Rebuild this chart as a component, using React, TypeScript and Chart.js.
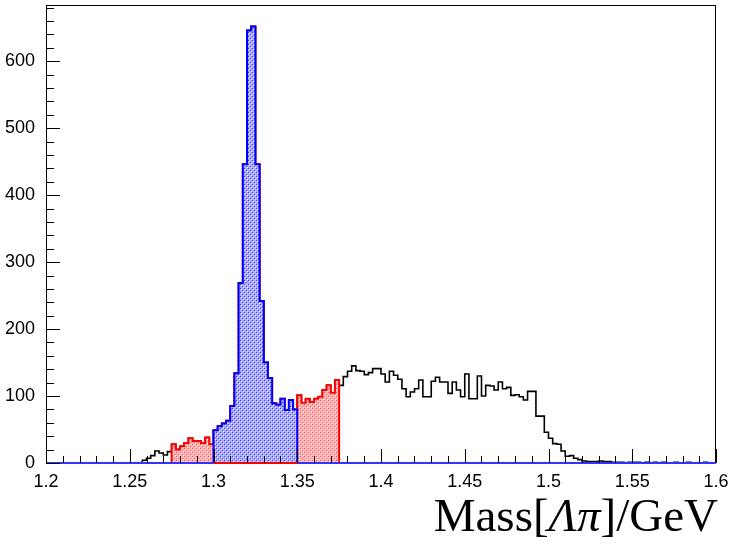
import React, { useEffect, useRef } from "react";
import { Chart, registerables } from "chart.js";

Chart.register(...registerables);

// ---- Data ----
const X_MIN = 1.2;
const X_MAX = 1.6;
const BIN_WIDTH = 0.0025;
const Y_MAX = 684;

// counts per 0.0025 GeV bin, 1.200 -> 1.275
const lowTailCounts = [
  0, 0, 0, 0, 0, 0, 0, 0, 0, 0,
  0, 0, 0, 0, 0, 0, 0, 0, 0, 0,
  0, 0, 0, 4, 7, 11, 18, 15, 12, 17,
];
// 1.275 -> 1.300 (low sideband)
const lowSidebandCounts = [28, 20, 25, 30, 37, 33, 33, 30, 38, 28];
// 1.300 -> 1.350 (signal window)
const signalCounts = [
  49, 55, 59, 63, 85, 134, 269, 446, 646, 652,
  446, 242, 150, 127, 89, 87, 96, 79, 94, 80,
];
// 1.350 -> 1.375 (high sideband)
const highSidebandCounts = [101, 90, 96, 91, 96, 99, 109, 116, 105, 124];
// 1.375 -> 1.600
const highTailCounts = [
  116, 129, 137, 145, 138, 137, 132, 135, 141, 141,
  133, 121, 137, 131, 125, 111, 99, 106, 111, 124,
  99, 99, 122, 128, 121, 121, 104, 121, 109, 99,
  133, 96, 96, 130, 100, 116, 115, 109, 121, 111,
  113, 101, 102, 99, 94, 107, 107, 70, 70, 46,
  37, 29, 28, 18, 10, 11, 7, 5, 3, 2,
  2, 2, 3, 2, 2, 1, 1, 1, 0, 1,
  1, 1, 0, 1, 0, 1, 0, 1, 0, 0,
  1, 0, 0, 1, 0, 0, 0, 1, 0, 0,
];

const sidebandRange = [1.275, 1.375];
const signalRange = [1.3, 1.35];

const allCounts = [
  ...lowTailCounts,
  ...lowSidebandCounts,
  ...signalCounts,
  ...highSidebandCounts,
  ...highTailCounts,
];

function stepPoints(lo: number, hi: number) {
  const i0 = Math.round((lo - X_MIN) / BIN_WIDTH);
  const i1 = Math.round((hi - X_MIN) / BIN_WIDTH);
  const pts: { x: number; y: number }[] = [];
  pts.push({ x: X_MIN + i0 * BIN_WIDTH, y: 0 });
  for (let i = i0; i < i1; i++) {
    pts.push({ x: X_MIN + i * BIN_WIDTH, y: allCounts[i] });
  }
  pts.push({ x: X_MIN + i1 * BIN_WIDTH, y: 0 });
  return pts;
}

function makePattern(bg: string, dot: string) {
  const c = document.createElement("canvas");
  c.width = 4;
  c.height = 4;
  const g = c.getContext("2d")!;
  g.fillStyle = bg;
  g.fillRect(0, 0, 4, 4);
  g.fillStyle = "#ffffff";
  g.fillRect(1, 1, 1, 1);
  g.fillRect(3, 3, 1, 1);
  g.fillStyle = dot;
  g.fillRect(0, 0, 1, 1);
  g.fillRect(2, 2, 1, 1);
  return g.createPattern(c, "repeat");
}

const framePlugin = {
  id: "rootFrame",
  beforeDatasetsDraw(chart: any) {
    const { ctx, chartArea: a } = chart;
    ctx.save();
    ctx.strokeStyle = "#000";
    ctx.lineWidth = 1;
    ctx.strokeRect(a.left + 0.5, a.top + 0.5, a.right - a.left - 1, a.bottom - a.top);
    ctx.restore();
  },
  afterDatasetsDraw(chart: any) {
    const { ctx, chartArea: a, scales } = chart;
    const xs = scales.x;
    const ys = scales.y;
    ctx.save();
    ctx.strokeStyle = "#000";
    ctx.lineWidth = 1;
    ctx.beginPath();
    for (let k = 0; k <= 40; k++) {
      const v = X_MIN + k * 0.01;
      const px = Math.round(xs.getPixelForValue(v)) + 0.5;
      const len = k % 5 === 0 ? 14 : 7;
      ctx.moveTo(px, a.bottom);
      ctx.lineTo(px, a.bottom - len);
    }
    for (let k = 0; k * 20 <= Y_MAX; k++) {
      const v = k * 20;
      const py = Math.round(ys.getPixelForValue(v)) + 0.5;
      const len = k % 5 === 0 ? 14 : 8;
      ctx.moveTo(a.left, py);
      ctx.lineTo(a.left + len, py);
    }
    ctx.stroke();
    ctx.restore();
  },
};

export default function App() {
  const ref = useRef<HTMLCanvasElement | null>(null);

  useEffect(() => {
    if (!ref.current) return;
    const bluePattern = makePattern("#a8a8ff", "#3b3bff");
    const redPattern = makePattern("#ffb0b0", "#ff4a4a");
    const chart = new Chart(ref.current, {
      type: "line",
      data: {
        datasets: [
          {
            data: stepPoints(signalRange[0], signalRange[1]).map((p) => ({ x: p.x, y: 0 })),
            borderColor: "#ff0000",
            borderWidth: 2,
            stepped: "before",
            pointRadius: 0,
            fill: false,
            clip: false,
          } as any,
          {
            data: [
              { x: X_MIN, y: 0 },
              { x: X_MAX, y: 0 },
            ],
            borderColor: "#3333ff",
            borderWidth: 2,
            pointRadius: 0,
            fill: false,
            clip: false,
          },
          {
            data: stepPoints(signalRange[0], signalRange[1]),
            borderColor: "#0000ff",
            borderWidth: 2,
            backgroundColor: bluePattern as any,
            stepped: "before",
            pointRadius: 0,
            fill: "origin",
          } as any,
          {
            data: stepPoints(sidebandRange[0], sidebandRange[1]),
            borderColor: "#ff0000",
            borderWidth: 2,
            backgroundColor: redPattern as any,
            stepped: "before",
            pointRadius: 0,
            fill: "origin",
          } as any,
          {
            data: stepPoints(X_MIN, X_MAX),
            borderColor: "#000000",
            borderWidth: 1.6,
            stepped: "before",
            pointRadius: 0,
            fill: false,
          } as any,
        ],
      },
      options: {
        animation: false,
        responsive: false,
        events: [],
        layout: { padding: { left: 0, top: 5, right: 16, bottom: 0 } },
        plugins: { legend: { display: false }, tooltip: { enabled: false } },
        scales: {
          x: {
            type: "linear",
            min: X_MIN,
            max: X_MAX,
            grid: { display: false },
            border: { display: false },
            ticks: {
              stepSize: 0.05,
              autoSkip: false,
              maxRotation: 0,
              includeBounds: false,
              padding: 0,
              color: "#000",
              font: { family: "'Liberation Sans', Arial, sans-serif", size: 18 },
              callback: (v: any) => String(Number(Number(v).toFixed(2))),
            },
            afterFit: (s: any) => {
              s.height = 85;
            },
          },
          y: {
            type: "linear",
            min: 0,
            max: Y_MAX,
            grid: { display: false },
            border: { display: false },
            ticks: {
              stepSize: 100,
              includeBounds: false,
              padding: 3,
              color: "#000",
              font: { family: "'Liberation Sans', Arial, sans-serif", size: 18 },
            },
            afterFit: (s: any) => {
              s.width = 46;
              s.paddingTop = 0;
              s.paddingBottom = 0;
            },
          },
        },
      },
      plugins: [framePlugin],
    });
    return () => chart.destroy();
  }, []);

  return (
    <div style={{ position: "fixed", left: 0, top: 0, width: 732, height: 548, background: "#fff" }}>
      <canvas ref={ref} width={732} height={548} style={{ display: "block" }} />
      <div
        style={{
          position: "absolute",
          right: 14,
          top: 492,
          fontFamily: "'Liberation Serif', 'Times New Roman', serif",
          fontSize: 47,
          lineHeight: "47px",
          color: "#000",
          whiteSpace: "nowrap",
        }}
      >
        Mass[<i>Λπ</i>]/GeV
      </div>
    </div>
  );
}
